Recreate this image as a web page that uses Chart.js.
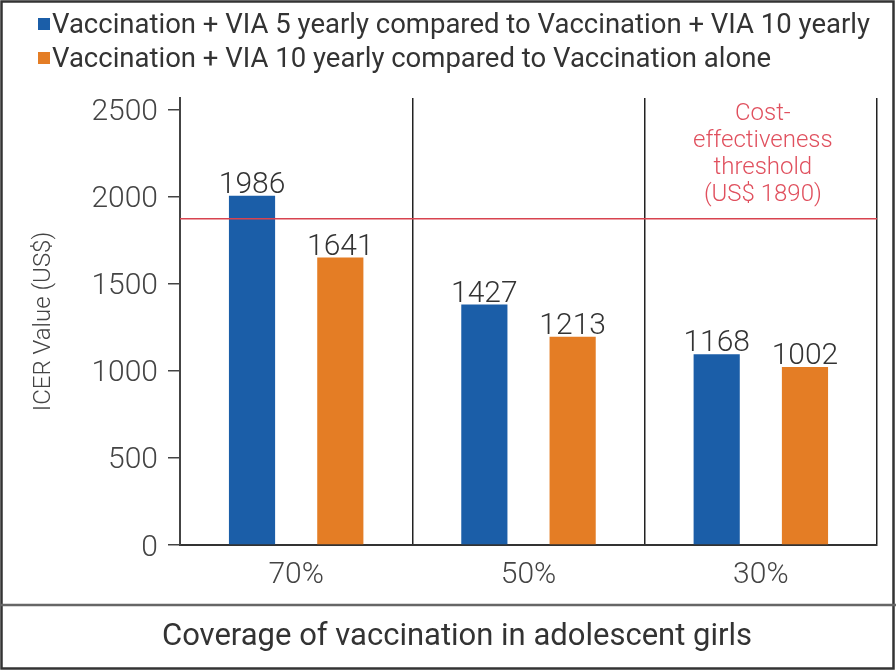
<!DOCTYPE html>
<html>
<head>
  <meta charset="utf-8">
  <script src="https://cdn.jsdelivr.net/npm/chart.js@4.4.1/dist/chart.umd.min.js"></script>
  <style>
    body { margin: 0; background: #fff; }
    #wrap { position: relative; width: 896px; height: 671px; }
    #legend { position: absolute; left: 38px; top: 7px; font-family: Roboto, sans-serif; font-size: 27.5px; color: #333; }
    .item { height: 34px; line-height: 34px; white-space: nowrap; }
    .box { display: inline-block; width: 12px; height: 12px; margin-right: 2px; vertical-align: middle; position: relative; top: -2px; }
  </style>
</head>
<body>
  <div id="wrap">
    <canvas id="chart" width="896" height="671"></canvas>
    <div id="legend"></div>
  </div>

  <script>
    const categories = ['70%', '50%', '30%'];
    const seriesNames = [
      'Vaccination + VIA 5 yearly compared to Vaccination + VIA 10 yearly',
      'Vaccination + VIA 10 yearly compared to Vaccination alone'
    ];
    const seriesColors = ['#1b5ea8', '#e47d25'];
    // bar heights as drawn in the picture
    const vaccVia5 = [2005, 1380, 1095];
    const vaccVia10 = [1650, 1195, 1022];
    // numbers printed above the bars
    const vaccVia5Labels = ['1986', '1427', '1168'];
    const vaccVia10Labels = ['1641', '1213', '1002'];
    const thresholdValue = 1873;
    const thresholdText = ['Cost-', 'effectiveness', 'threshold', '(US$ 1890)'];
    const yTicks = [0, 500, 1000, 1500, 2000, 2500];
    const xTitle = 'Coverage of vaccination in adolescent girls';

    // legend
    const legend = document.getElementById('legend');
    seriesNames.forEach((name, i) => {
      let row = document.createElement('div');
      row.className = 'item';
      row.innerHTML = '<span class="box" style="background:' + seriesColors[i] + '"></span>' + name;
      legend.appendChild(row);
    });

    const barLabels = {
      id: 'barLabels',
      afterDatasetsDraw(chart) {
        const ctx = chart.ctx;
        const texts = [vaccVia5Labels, vaccVia10Labels];
        ctx.save();
        ctx.font = '300 30px Roboto';
        ctx.fillStyle = '#333';
        ctx.textAlign = 'center';
        ctx.textBaseline = 'alphabetic';
        chart.data.datasets.forEach((ds, i) => {
          chart.getDatasetMeta(i).data.forEach((bar, j) => {
            ctx.fillText(texts[i][j], bar.x, bar.y - 3);
          });
        });
        ctx.restore();
      }
    };

    const threshold = {
      id: 'threshold',
      afterDatasetsDraw(chart) {
        const ctx = chart.ctx;
        const area = chart.chartArea;
        const y = chart.scales.y.getPixelForValue(thresholdValue);
        ctx.save();
        ctx.strokeStyle = '#d8434f';
        ctx.lineWidth = 1.5;
        ctx.beginPath();
        ctx.moveTo(area.left, y);
        ctx.lineTo(area.right, y);
        ctx.stroke();
        // label sits over the last category
        const cx = chart.scales.x.getPixelForValue(categories.length - 1);
        ctx.font = '300 24px Roboto';
        ctx.fillStyle = '#e0505e';
        ctx.textAlign = 'center';
        ctx.textBaseline = 'middle';
        thresholdText.forEach((t, i) => {
          ctx.fillText(t, cx + 2, y - 24 - (thresholdText.length - 1 - i) * 27);
        });
        ctx.restore();
      }
    };

    const frame = {
      id: 'frame',
      afterDraw(chart) {
        const ctx = chart.ctx;
        ctx.save();
        ctx.strokeStyle = '#333';
        ctx.lineWidth = 2.5;
        ctx.strokeRect(1.5, 1.5, 892, 667);
        ctx.strokeStyle = '#666';
        ctx.beginPath();
        ctx.moveTo(0, 605);
        ctx.lineTo(896, 605);
        ctx.stroke();
        // x axis title lives in the bottom box, centred on the page
        ctx.font = '31px Roboto';
        ctx.fillStyle = '#333';
        ctx.textAlign = 'center';
        ctx.textBaseline = 'middle';
        ctx.fillText(xTitle, chart.width / 2 + 9, 637);
        ctx.restore();
      }
    };

    new Chart(document.getElementById('chart'), {
      type: 'bar',
      data: {
        labels: categories,
        datasets: [
          { label: seriesNames[0], data: vaccVia5, backgroundColor: seriesColors[0] },
          { label: seriesNames[1], data: vaccVia10, backgroundColor: seriesColors[1] }
        ]
      },
      options: {
        responsive: false,
        animation: false,
        layout: { padding: { top: 98, right: 19, bottom: 0, left: 0 } },
        datasets: { bar: { categoryPercentage: 0.76, barPercentage: 0.523 } },
        plugins: { legend: { display: false }, tooltip: { enabled: false } },
        scales: {
          x: {
            afterFit(scale) { scale.height = 126; },
            grid: { offset: true, drawTicks: false, color: '#222', lineWidth: 1.5 },
            border: { color: '#333', width: 2 },
            ticks: { padding: 12, color: '#444', font: { family: 'Roboto', size: 30, weight: 300 } }
          },
          y: {
            min: 0,
            max: 2566,
            afterFit(scale) { scale.width = 180; },
            afterBuildTicks(scale) { scale.ticks = yTicks.map(v => ({ value: v })); },
            grid: { drawOnChartArea: false, drawTicks: true, tickLength: 12, color: '#444', lineWidth: 1.5 },
            border: { color: '#444', width: 2 },
            ticks: {
              padding: 10, labelOffset: 3, color: '#444',
              font: { family: 'Roboto', size: 30, weight: 300 },
              callback: v => String(v)
            },
            title: {
              display: true,
              text: 'ICER Value (US$)',
              color: '#444',
              font: { family: 'Roboto', size: 24, weight: 300 },
              padding: { top: 30, bottom: 0 }
            }
          }
        }
      },
      plugins: [barLabels, threshold, frame]
    });
  </script>
</body>
</html>
